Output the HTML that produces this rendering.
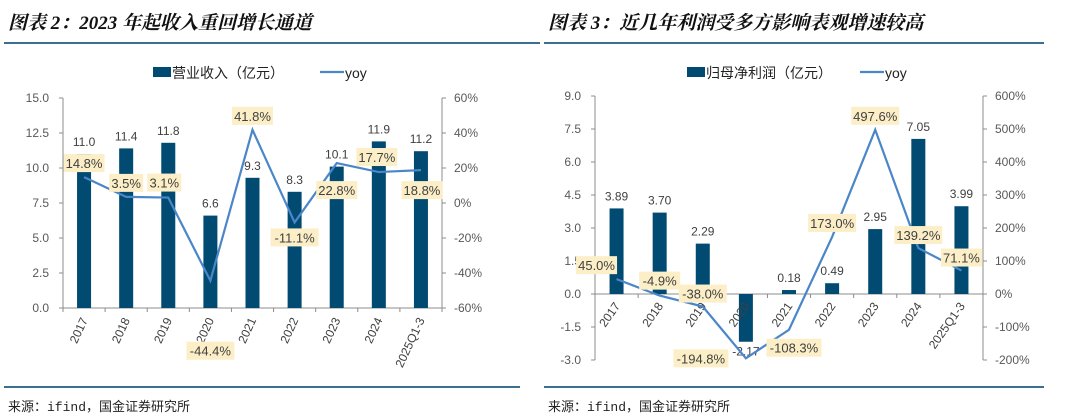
<!DOCTYPE html>
<html><head><meta charset="utf-8"><style>
body{margin:0;width:1080px;height:418px;background:#fff;overflow:hidden;font-family:"Liberation Sans","Noto Sans CJK SC",sans-serif;}
.title{position:absolute;top:8px;font-family:"Liberation Serif","Noto Serif CJK SC",serif;font-style:italic;font-weight:bold;font-size:19px;color:#111;}
.rule{position:absolute;height:1.5px;background:#3d6f8e;}
.src{position:absolute;top:396px;font-family:"Liberation Mono","Noto Sans CJK SC",monospace;font-size:13px;color:#222;}
</style></head><body>
<div class="title" style="left:8px">图表 2：2023 年起收入重回增长通道</div>
<div class="title" style="left:548px">图表 3：近几年利润受多方影响表观增速较高</div>
<div class="rule" style="left:4px;top:42px;width:536px"></div>
<div class="rule" style="left:544px;top:42px;width:500px"></div>
<div class="rule" style="left:4px;top:386px;width:516px"></div>
<div class="rule" style="left:544px;top:386px;width:500px"></div>
<div class="src" style="left:8px">来源：ifind，国金证券研究所</div>
<div class="src" style="left:548px">来源：ifind，国金证券研究所</div>
<svg id="svg" width="1080" height="418" style="position:absolute;left:0;top:0"></svg>
<script>
const categories=["2017","2018","2019","2020","2021","2022","2023","2024","2025Q1-3"];
const revenue=[11.0,11.4,11.8,6.6,9.3,8.3,10.1,11.9,11.2];
const revenueYoy=[14.8,3.5,3.1,-44.4,41.8,-11.1,22.8,17.7,18.8];
const profit=[3.89,3.70,2.29,-2.17,0.18,0.49,2.95,7.05,3.99];
const profitYoy=[45.0,-4.9,-38.0,-194.8,-108.3,173.0,497.6,139.2,71.1];
const leftTicks=[0,2.5,5,7.5,10,12.5,15];
const leftYoyTicks=[-60,-40,-20,0,20,40,60];
const rightTicks=[-3,-1.5,0,1.5,3,4.5,6,7.5,9];
const rightYoyTicks=[-200,-100,0,100,200,300,400,500,600];

const NS="http://www.w3.org/2000/svg";
const svg=document.getElementById('svg');
function mk(t,a,txt){const e=document.createElementNS(NS,t);for(const k in a)e.setAttribute(k,a[k]);if(txt!==undefined)e.textContent=txt;svg.appendChild(e);return e;}

function chart(cfg){
  const {x0,x1,yTop,yBot,min,max,ymin,ymax,vals,yoy,ticks,yticks,dec,legend,lx,yoyOff,prefix}=cfg;
  const n=categories.length,step=(x1-x0)/n;
  const X=i=>x0+step*(i+0.5);
  const Y=v=>yBot-(v-min)/(max-min)*(yBot-yTop);
  const Y2=v=>yBot-(v-ymin)/(ymax-ymin)*(yBot-yTop);
  // axes
  let e=mk('line',{x1:x0,y1:yTop,x2:x0,y2:yBot,stroke:'#8c8c8c','stroke-width':1});
  
  e=mk('line',{x1:x1,y1:yTop,x2:x1,y2:yBot,stroke:'#8c8c8c','stroke-width':1});
  
  e=mk('line',{x1:x0,y1:Y(0),x2:x1,y2:Y(0),stroke:'#8c8c8c','stroke-width':1});
  
  ticks.forEach(t=>{
    mk('line',{x1:x0-4,y1:Y(t),x2:x0,y2:Y(t),stroke:'#8c8c8c'});
    e=mk('text',{x:x0-14,y:Y(t)+4,'text-anchor':'end','font-size':12,fill:'#595959'},t.toFixed(1));
    
  });
  yticks.forEach(t=>{
    mk('line',{x1:x1,y1:Y2(t),x2:x1+4,y2:Y2(t),stroke:'#8c8c8c'});
    e=mk('text',{x:x1+12,y:Y2(t)+4,'font-size':12,fill:'#595959'},t+'%');
    
  });
  for(let i=0;i<=n;i++)mk('line',{x1:x0+step*i,y1:Y(0),x2:x0+step*i,y2:Y(0)+4,stroke:'#8c8c8c'});
  // bars
  vals.forEach((v,i)=>{
    const y=Math.min(Y(v),Y(0)),h=Math.abs(Y(v)-Y(0));
    e=mk('rect',{x:X(i)-7,y:y,width:14,height:h,fill:'#014a72'});
    
    const ly=v>=0?Y(v)-8:Y(v)+14;
    e=mk('text',{x:X(i),y:ly,'text-anchor':'middle','font-size':12,fill:'#404040'},v.toFixed(dec));
    
  });
  // x labels
  categories.forEach((c,i)=>{
    const tx=X(i)+4,ty=Y(0)+12;
    e=mk('text',{x:tx,y:ty,'text-anchor':'end','font-size':12,fill:'#404040',transform:`rotate(${cfg.rot} ${tx} ${ty})`},c);
    
  });
  // line
  const pts=yoy.map((v,i)=>X(i)+','+Y2(v)).join(' ');
  e=mk('polyline',{points:pts,fill:'none',stroke:'#4a86c8','stroke-width':2.2});
  
  yoy.forEach((v,i)=>{
    const cx=X(i)+yoyOff[i][0],cy=Y2(v)+yoyOff[i][1];
    const s=v.toFixed(1)+'%',w=s.length*7+6;
    e=mk('rect',{x:cx-w/2,y:cy-9,width:w,height:18,fill:'#fcefc7'});
    
    e=mk('text',{x:cx,y:cy+5,'text-anchor':'middle','font-size':13,fill:'#404040'},s);
    
  });
  // legend
  e=mk('rect',{x:lx,y:67,width:18,height:10,fill:'#014a72'});
  
  e=mk('text',{x:lx+19,y:78,'font-size':14,fill:'#222'},legend);
  
  const l2=lx+cfg.lgap;
  e=mk('line',{x1:l2,y1:72,x2:l2+24,y2:72,stroke:'#4a86c8','stroke-width':2.2});
  
  e=mk('text',{x:l2+25,y:78,'font-size':14,fill:'#222'},'yoy');
  
}
chart({prefix:'revenue',x0:63,x1:442,yTop:98,yBot:308,min:0,max:15,ymin:-60,ymax:60,vals:revenue,yoy:revenueYoy,ticks:leftTicks,yticks:leftYoyTicks,dec:1,legend:'营业收入（亿元）',lx:153,lgap:167,rot:-65,
  yoyOff:[[0,-14],[0,-14],[-4,-15],[0,70],[0,-14],[0,15],[0,27],[-2,-15],[1,20]]});
chart({prefix:'profit',x0:595,x1:983,yTop:96,yBot:360,min:-3,max:9,ymin:-200,ymax:600,vals:profit,yoy:profitYoy,ticks:rightTicks,yticks:rightYoyTicks,dec:2,legend:'归母净利润（亿元）',lx:687,lgap:173,rot:-55,
  yoyOff:[[-20,-14],[0,-15],[0,-13],[-45,0],[5,18],[0,-14],[0,-14],[0,-13],[0,-13]]});
</script>
</body></html>
